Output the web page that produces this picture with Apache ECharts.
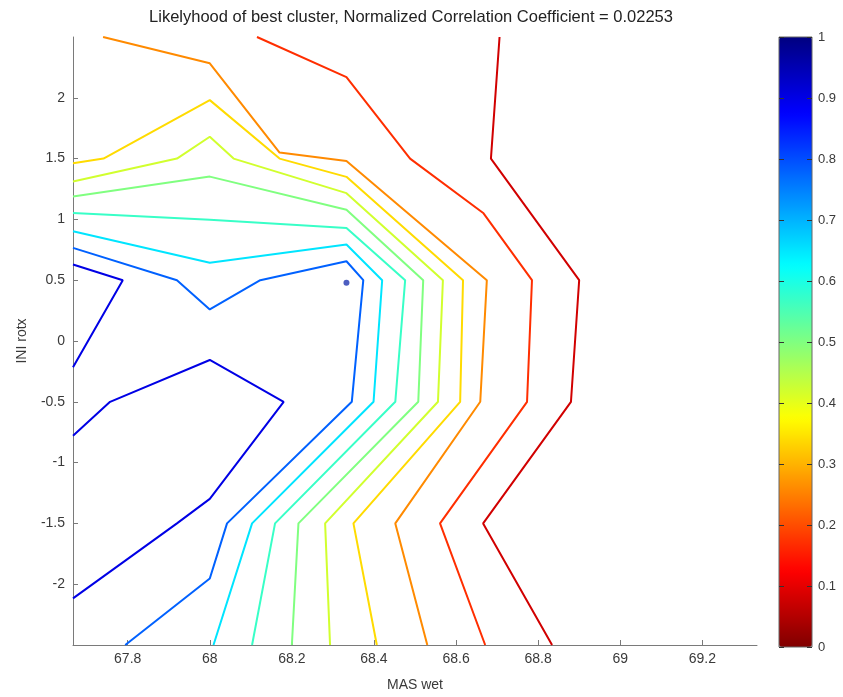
<!DOCTYPE html>
<html><head><meta charset="utf-8">
<script src="https://cdn.jsdelivr.net/npm/echarts@6/dist/echarts.min.js"></script>
<style>html,body{margin:0;padding:0;background:#fff}#c{width:843px;height:697px}</style>
</head><body><div id="c"></div>
<script>
// ---- data (x = MAS wet, y = INI rotx) ----
const titleText = 'Likelyhood of best cluster, Normalized Correlation Coefficient = 0.02253';
const xName = 'MAS wet';
const yName = 'INI rotx';
const xRange = [67.6667, 69.3333];
const yRange = [-2.5, 2.5];
const colorbarTicks = [0, 0.1, 0.2, 0.3, 0.4, 0.5, 0.6, 0.7, 0.8, 0.9, 1];

// contour level of each line (colour taken from the colour bar)
const levels = [0.08, 0.17, 0.26, 0.34, 0.42, 0.50, 0.57, 0.65, 0.78, 0.90];

const contour1 = [[68.706,2.5],[68.685,1.5],[68.9,0.5],[68.88,-0.5],[68.666,-1.5],[68.834,-2.5]];
const contour2 = [[68.115,2.5],[68.333,2.17],[68.488,1.5],[68.667,1.05],[68.785,0.5],[68.773,-0.5],[68.561,-1.5],[68.671,-2.5]];
const contour3 = [[67.74,2.5],[68.0,2.284],[68.17,1.55],[68.333,1.48],[68.675,0.5],[68.659,-0.5],[68.452,-1.5],[68.53,-2.5]];
const contour4 = [[67.6667,1.462],[67.741,1.5],[68.0,1.981],[68.17,1.5],[68.333,1.35],[68.617,0.5],[68.61,-0.5],[68.35,-1.5],[68.407,-2.5]];
const contour5 = [[67.6667,1.311],[67.92,1.5],[68.0,1.68],[68.058,1.5],[68.333,1.216],[68.568,0.5],[68.556,-0.5],[68.281,-1.5],[68.293,-2.5]];
const contour6 = [[67.6667,1.189],[68.0,1.352],[68.333,1.079],[68.52,0.5],[68.508,-0.5],[68.216,-1.5],[68.2,-2.5]];
const contour7 = [[67.6667,1.052],[68.0,0.998],[68.333,0.929],[68.476,0.5],[68.452,-0.5],[68.159,-1.5],[68.103,-2.5]];
const contour8 = [[67.6667,0.902],[68.0,0.643],[68.333,0.793],[68.42,0.5],[68.399,-0.5],[68.103,-1.5],[68.009,-2.5]];
const contour9 = [[67.6667,0.766],[67.92,0.5],[68.0,0.26],[68.123,0.5],[68.333,0.656],[68.374,0.5],[68.346,-0.5],[68.042,-1.5],[68.0,-1.953],[67.794,-2.5]];
const contour10a = [[67.6667,0.629],[67.788,0.5],[67.6667,-0.216]];
const contour10b = [[67.6667,-0.779],[67.757,-0.5],[68.0,-0.156],[68.18,-0.5],[68.0,-1.298],[67.92,-1.5],[67.6667,-2.117]];
const peakPoint = [[68.333, 0.48]];

const contourLines = [
  {data: contour1, level: 0}, {data: contour2, level: 1}, {data: contour3, level: 2},
  {data: contour4, level: 3}, {data: contour5, level: 4}, {data: contour6, level: 5},
  {data: contour7, level: 6}, {data: contour8, level: 7}, {data: contour9, level: 8},
  {data: contour10a, level: 9}, {data: contour10b, level: 9}
];

// reversed MATLAB jet: value 0 -> dark red, 1 -> dark blue
function jetRev(v) {
  const t = 1 - v;
  const c = x => Math.max(0, Math.min(1, x));
  const r = c(1.5 - Math.abs(4 * t - 3));
  const g = c(1.5 - Math.abs(4 * t - 2));
  const b = c(1.5 - Math.abs(4 * t - 1));
  return 'rgb(' + Math.round(r * 255) + ',' + Math.round(g * 255) + ',' + Math.round(b * 255) + ')';
}
const cbStops = [];
for (let i = 0; i <= 8; i++) cbStops.push(jetRev(i / 8));

const FONT = 'Liberation Sans, Arial, sans-serif';
const axisGrey = '#7a7a7a';
const labelColor = '#3a3a3a';

const series = contourLines.map(l => ({
  type: 'line', xAxisIndex: 0, yAxisIndex: 0,
  data: l.data, showSymbol: false, symbol: 'none', smooth: false,
  lineStyle: {width: 2, color: jetRev(levels[l.level])},
  silent: true, z: 3
}));
series.push({
  type: 'scatter', xAxisIndex: 0, yAxisIndex: 0, data: peakPoint,
  symbolSize: 6, itemStyle: {color: '#2036b0'}, z: 4
});
series.push({type: 'scatter', xAxisIndex: 1, yAxisIndex: 1, data: []});
const dummyIndex = series.length - 1;

const chart = echarts.init(document.getElementById('c'), null, {renderer: 'canvas'});
chart.setOption({
  animation: false,
  backgroundColor: '#fff',
  title: {
    text: titleText, left: 406, top: 4, textAlign: 'center',
    textStyle: {fontFamily: FONT, fontSize: 16.5, fontWeight: 'normal', color: '#222'}
  },
  grid: [
    {left: 73, top: 37, width: 684, height: 610, show: false},
    {left: 779, top: 37, width: 33, height: 610, show: true, borderColor: '#666', borderWidth: 1, backgroundColor: 'transparent', z: 20}
  ],
  xAxis: [
    {
      type: 'value', gridIndex: 0, min: xRange[0], max: xRange[1], splitNumber: 8,
      name: xName, nameLocation: 'middle', nameGap: 33,
      nameTextStyle: {fontFamily: FONT, fontSize: 14, color: labelColor},
      axisLine: {show: true, onZero: false, lineStyle: {color: axisGrey, width: 1}},
      axisTick: {show: true, inside: true, length: 5, lineStyle: {color: axisGrey}},
      axisLabel: {showMinLabel: false, showMaxLabel: false, color: labelColor, fontFamily: FONT, fontSize: 14, margin: 7},
      splitLine: {show: false}
    },
    {type: 'value', gridIndex: 1, min: 0, max: 1, show: false}
  ],
  yAxis: [
    {
      type: 'value', gridIndex: 0, min: yRange[0], max: yRange[1], interval: 0.5,
      name: yName, nameLocation: 'middle', nameGap: 44, nameRotate: 90,
      nameTextStyle: {fontFamily: FONT, fontSize: 14, color: labelColor},
      axisLine: {show: true, onZero: false, lineStyle: {color: axisGrey, width: 1}},
      axisTick: {show: true, inside: true, length: 5, lineStyle: {color: axisGrey}},
      axisLabel: {showMinLabel: false, showMaxLabel: false, color: labelColor, fontFamily: FONT, fontSize: 14, margin: 8},
      splitLine: {show: false}
    },
    {
      type: 'value', gridIndex: 1, min: 0, max: 1, interval: 0.1, position: 'right', z: 30,
      axisLine: {show: false, onZero: false},
      axisTick: {show: true, inside: true, length: 5, lineStyle: {color: '#333'}},
      axisLabel: {color: labelColor, fontFamily: FONT, fontSize: 13, margin: 6},
      splitLine: {show: false}
    },
    {
      type: 'value', gridIndex: 1, min: 0, max: 1, interval: 0.1, position: 'left', z: 30,
      axisLine: {show: false, onZero: false},
      axisTick: {show: true, inside: true, length: 5, lineStyle: {color: '#333'}},
      axisLabel: {show: false},
      splitLine: {show: false}
    }
  ],
  visualMap: {
    type: 'continuous', min: 0, max: 1, orient: 'vertical', z: 1,
    left: 779, top: 37, itemWidth: 33, itemHeight: 610, padding: 0,
    calculable: false, realtime: false, text: null, showLabel: false,
    seriesIndex: dummyIndex, hoverLink: false,
    inRange: {color: cbStops}
  },
  series: series
});
</script>
</body></html>
